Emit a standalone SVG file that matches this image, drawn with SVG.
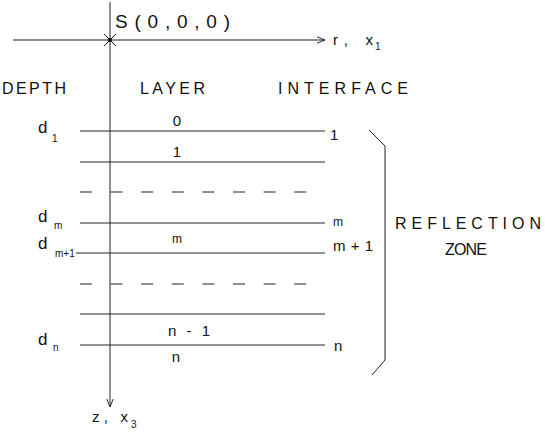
<svg xmlns="http://www.w3.org/2000/svg" width="545" height="433" viewBox="0 0 545 433">
<style>
text{font-family:"Liberation Sans","DejaVu Sans",sans-serif;fill:#111}
.h{font-size:16px}
.lb{font-size:15px}
.sm{font-size:12px}
.sub{font-size:10px}
.ln{stroke:#222;stroke-width:1;fill:none}
.ds{stroke:#222;stroke-width:1;fill:none;stroke-dasharray:12 18.6}
</style>
<defs>
<marker id="ah" viewBox="0 0 10 10" refX="10" refY="5" markerWidth="8" markerHeight="8" markerUnits="userSpaceOnUse" orient="auto">
<path d="M0,1 L10,5 L0,9" fill="none" stroke="#222" stroke-width="1.2"/>
</marker>
</defs>
<g id="connectors">
<line class="ln" x1="13" y1="40" x2="325" y2="40" marker-end="url(#ah)"/>
<line class="ln" x1="110" y1="2" x2="110" y2="407" marker-end="url(#ah)"/>
<line class="ln" x1="80" y1="131" x2="325" y2="131"/>
<line class="ln" x1="80" y1="162" x2="325" y2="162"/>
<line class="ds" x1="80" y1="192" x2="310" y2="192"/>
<line class="ln" x1="80" y1="223" x2="325" y2="223"/>
<line class="ln" x1="76" y1="253" x2="325" y2="253"/>
<line class="ds" x1="80" y1="284" x2="310" y2="284"/>
<line class="ln" x1="80" y1="314" x2="325" y2="314"/>
<line class="ln" x1="80" y1="345" x2="325" y2="345"/>
<path class="ln" d="M369,130 L385,146 L385,360 L372,375"/>
</g>
<g id="source">
<line class="ln" x1="104" y1="34" x2="116" y2="46"/>
<line class="ln" x1="104" y1="46" x2="116" y2="34"/>
<circle cx="110" cy="40" r="2" fill="#111"/>
<text x="115" y="28" style="font-size:19px" textLength="115" lengthAdjust="spacing">S(0,0,0)</text>
</g>
<g id="axis-labels">
<text x="333" y="45" class="lb" textLength="40" lengthAdjust="spacing">r, x</text>
<text x="375" y="50" class="sub">1</text>
<text x="92" y="422" class="lb" textLength="36" lengthAdjust="spacing">z, x</text>
<text x="131" y="428" class="sub">3</text>
</g>
<g id="headings">
<text x="2" y="94" class="h" textLength="64" lengthAdjust="spacing">DEPTH</text>
<text x="140" y="94" class="h" textLength="65" lengthAdjust="spacing">LAYER</text>
<text x="278" y="94" class="h" textLength="130" lengthAdjust="spacing">INTERFACE</text>
</g>
<g id="depths">
<text x="38" y="133" style="font-size:17px">d</text><text x="52" y="142" class="sub">1</text>
<text x="38" y="222" style="font-size:17px">d</text><text x="54" y="229" class="sub">m</text>
<text x="38" y="249" style="font-size:17px">d</text><text x="55" y="257" class="sub">m+1</text>
<text x="38" y="345" style="font-size:17px">d</text><text x="53" y="351" class="sub">n</text>
</g>
<g id="layers">
<text x="177" y="126" class="lb" text-anchor="middle">0</text>
<text x="177" y="157" class="lb" text-anchor="middle">1</text>
<text x="177" y="243" class="sm" text-anchor="middle">m</text>
<text x="168" y="336" class="lb" textLength="42" lengthAdjust="spacing">n-1</text>
<text x="176" y="362" class="lb" text-anchor="middle">n</text>
</g>
<g id="interfaces">
<text x="330" y="140" class="lb">1</text>
<text x="333" y="226" class="sm">m</text>
<text x="333" y="251" class="lb" textLength="40" lengthAdjust="spacing">m+1</text>
<text x="334" y="351" class="lb">n</text>
</g>
<g id="reflection-zone">
<text x="395" y="229" class="h" textLength="146" lengthAdjust="spacing">REFLECTION</text>
<text x="445" y="255" class="h" textLength="42" lengthAdjust="spacing">ZONE</text>
</g>
</svg>
